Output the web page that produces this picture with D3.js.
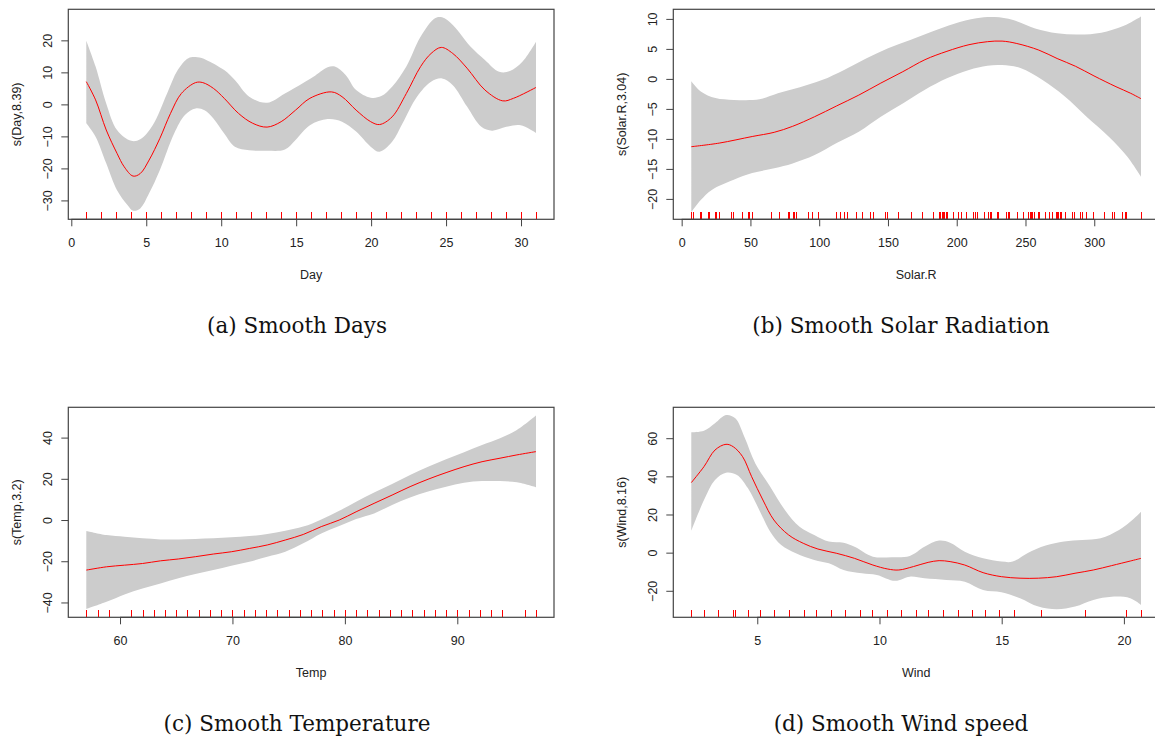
<!DOCTYPE html>
<html><head><meta charset="utf-8">
<script src="https://cdn.jsdelivr.net/npm/d3@7"></script>
<style>body{margin:0;background:#fff} svg{display:block}</style>
</head><body><svg id="c" width="1155" height="740"></svg>
<script>
// ---- Day ----
const dayFit = [[1,7.1],[1.62,1.4],[2.33,-8],[3.05,-15.3],[3.53,-19.5],[4.12,-22.4],[4.6,-21.6],[5.19,-17.4],[5.91,-10.6],[6.62,-2.8],[7.34,3.4],[8.29,6.8],[8.77,6.8],[9.48,5],[10.2,1.9],[11.15,-2.8],[12.1,-5.9],[13.06,-7.1],[14,-5.4],[14.96,-1.8],[15.92,1.9],[17.35,3.9],[18.06,2.4],[19,-1.8],[19.97,-5.4],[20.56,-6.3],[21.4,-3.9],[22.35,3.4],[23.3,11.8],[24,15.9],[24.68,17.8],[25.45,15.9],[26.4,11.3],[27.59,4.5],[28.78,1.1],[29.5,1.9],[31,5.3]];
const dayHi = [[1,19.9],[1.62,11.8],[2.33,0.3],[3.05,-8],[4,-11.4],[4.6,-10.9],[5.43,-6.5],[6.39,3.4],[7.1,10.7],[7.81,14.4],[8.41,14.7],[9,13.9],[10.2,10.7],[10.91,7.6],[11.87,2.4],[13.06,0.5],[14.25,3.4],[15.44,6.6],[16.15,8.6],[17.1,11.6],[17.58,11.8],[18.3,9.2],[19,4.5],[19.97,2.1],[20.68,2.6],[21.4,5.5],[22.35,11.8],[23.3,21.1],[24.26,26.9],[24.73,27.2],[25.45,24.8],[26.64,18],[27.59,13.9],[28.54,10.2],[29.26,10.4],[30.09,13.3],[31,19.6]];
const dayLo = [[1,-5.9],[1.62,-10.1],[2.33,-18.4],[3.05,-26.8],[3.76,-31.5],[4.12,-33.2],[4.6,-32.5],[5.19,-27.8],[5.91,-20.5],[6.86,-9.1],[7.58,-3.3],[8.29,-1.25],[8.89,-1.8],[9.48,-4.4],[10.2,-9.1],[10.91,-13.2],[11.87,-14.3],[13.06,-14.5],[14.25,-14.1],[14.96,-11.1],[15.92,-6.5],[17.1,-4.6],[18.06,-5.4],[19,-8.5],[19.97,-13.2],[20.56,-14.8],[21.4,-11.7],[22.1,-5.9],[23.06,2.4],[24,7.1],[24.73,8.1],[25.45,6],[26.4,-0.7],[27.35,-7],[28.07,-8.2],[29.02,-7],[29.97,-6.5],[31,-8.9]];
const dayRug = [1,2,3,4,5,6,7,8,9,10,11,12,13,14,15,16,17,18,19,20,21,22,23,24,25,26,27,28,29,30,31];
const dayXTicks = [0,5,10,15,20,25,30];
const dayYTicks = [-30,-20,-10,0,10,20];

// ---- Solar.R ----
const solarFit = [[7,-11.3],[27.3,-10.7],[51.3,-9.6],[67.3,-8.9],[80.7,-7.9],[96.7,-6.3],[112.7,-4.5],[128.8,-2.7],[144.8,-0.7],[160.8,1.2],[176.9,3.2],[192.9,4.6],[208.9,5.7],[222.3,6.2],[233,6.3],[243.7,5.9],[259.7,4.8],[273,3.4],[286.4,2.1],[299.8,0.5],[315.8,-1.3],[326.5,-2.4],[334,-3.3]];
const solarHi = [[7,-0.4],[13.9,-2.1],[24.6,-3.2],[37.9,-3.5],[56.6,-3.4],[70,-2.4],[86,-1.4],[102,-0.2],[118.1,1.5],[134.1,3.4],[150.1,5.1],[166.2,6.5],[182.2,7.9],[198.2,9.2],[214.3,10.1],[227.6,10.3],[241,9.8],[257,8.4],[273,7.6],[289.1,7.4],[305.1,7.7],[321.1,8.8],[334,10.4]];
const solarLo = [[7,-22.2],[13.9,-20.2],[21.9,-18.5],[37.9,-16.8],[51.3,-15.7],[67.3,-14.9],[80.7,-14.1],[96.7,-12.7],[112.7,-10.7],[128.8,-8.8],[144.8,-6.3],[160.8,-4.1],[176.9,-1.8],[192.9,0.1],[208.9,1.5],[222.3,2.2],[233,2.3],[246.3,1.8],[262.4,-0.2],[278.4,-2.9],[294.4,-6.3],[310.4,-9.6],[323.8,-12.9],[334,-16.3]];
const solarRug = [190,118,149,313,299,99,19,256,290,274,65,334,307,78,322,44,8,320,25,92,13,252,223,279,127,291,323,148,191,284,37,120,137,269,248,236,175,314,276,267,272,264,48,260,274,285,187,220,7,294,81,82,213,275,253,254,83,24,77,255,229,207,192,273,157,71,51,115,244,259,36,212,238,215,203,225,237,188,167,197,183,189,95,230,112,224,27,201,14,139,49,20,193,131];
const solarXTicks = [0,50,100,150,200,250,300];
const solarYTicks = [-20,-15,-10,-5,0,5,10];

// ---- Temp ----
const tempX = [57,58.8,60.4,62,63.6,65.2,66.7,68.3,69.9,71.5,73.1,74.7,76.3,77.9,79.5,81,82.6,84.2,85.8,87.4,89,90.6,92.2,93.8,95.3,97];
const tempFit = [-24.3,-22.7,-21.9,-21.1,-19.8,-18.9,-17.8,-16.5,-15.4,-13.8,-12.1,-9.7,-7,-3.2,0,4,8.1,12.1,16.2,19.8,23,25.9,28.3,30,31.6,33.2];
const tempHi = [-5.3,-7.3,-8.1,-8.9,-9.4,-9.4,-9.2,-8.9,-8.4,-7.8,-6.8,-5.2,-3.2,0.3,4.5,8.9,13.3,17.5,21.9,25.9,29.5,32.9,36.4,39.7,43.7,50.7];
const tempLo = [-43.2,-39.7,-36.1,-33.2,-30.8,-28.3,-26.2,-24.3,-22.2,-20.2,-17.8,-15.4,-11.3,-6.5,-2.9,0.5,3.2,7.3,10.9,13.8,16.2,18.1,18.9,18.9,18.3,15.9];
const tempRug = [57,58,59,61,62,63,64,65,66,67,68,69,70,71,72,73,74,75,76,77,78,79,80,81,82,83,84,85,86,87,88,89,90,91,92,93,94,96,97];
const tempXTicks = [60,70,80,90];
const tempYTicks = [-40,-20,0,20,40];

// ---- Wind ----
const windFit = [[2.3,36.7],[2.82,45.1],[3.27,53.8],[3.72,56.8],[4.02,55.5],[4.4,50.3],[4.77,39.8],[5.23,27.6],[5.68,17.1],[6.28,9.3],[6.88,4.9],[7.48,1.9],[8.23,-0.3],[8.98,-3],[9.73,-6.5],[10.34,-8.6],[10.79,-9.1],[11.39,-7.3],[11.99,-5.1],[12.44,-4.2],[12.89,-4.7],[13.49,-6.5],[14.24,-10.5],[14.99,-12.6],[15.75,-13.4],[16.5,-13.4],[17.25,-12.6],[18,-10.8],[18.75,-9.1],[19.5,-6.8],[20.26,-4.4],[20.7,-3]];
const windHi = [[2.3,63.1],[2.82,63.9],[3.27,67.8],[3.72,72.1],[4.1,70.4],[4.47,60.8],[4.92,46.8],[5.53,34.6],[6.13,22.4],[6.73,13.6],[7.33,9.3],[7.93,5.8],[8.53,5.2],[8.98,3.1],[9.73,-2.1],[10.49,-2.4],[11.24,-1.7],[11.84,3.1],[12.44,6.3],[12.89,5.2],[13.49,0.5],[14.24,-3],[14.99,-4.7],[15.45,-4.7],[16.05,-0.3],[16.8,3.7],[17.55,5.8],[18.3,6.6],[19.05,7.5],[19.8,11.9],[20.26,16.2],[20.7,21.5]];
const windLo = [[2.3,11.4],[2.82,27.6],[3.27,38.1],[3.72,41.9],[4.17,40.7],[4.62,33.7],[5.08,22.4],[5.53,11],[5.98,4],[6.58,-0.3],[7.33,-3.8],[7.93,-5.6],[8.53,-9.1],[9.28,-10.8],[9.89,-11.7],[10.64,-14.8],[11.24,-12.6],[11.84,-13.4],[12.74,-14.3],[13.49,-15.2],[14.24,-19.6],[14.99,-20.8],[15.75,-23.9],[16.5,-28.3],[17.25,-29.7],[18,-28.3],[18.75,-24.8],[19.5,-23.1],[20.26,-23.9],[20.7,-27.4]];
const windRug = [2.3,2.8,3.4,4.0,4.1,4.6,5.1,5.7,6.3,6.9,7.4,8.0,8.6,9.2,9.7,10.3,10.9,11.5,12.0,12.6,13.2,13.8,14.3,14.9,15.5,16.6,18.4,20.1,20.7];
const windXTicks = [5,10,15,20];
const windYTicks = [-20,0,20,40,60];

const captions = ["(a) Smooth Days","(b) Smooth Solar Radiation","(c) Smooth Temperature","(d) Smooth Wind speed"];
const xTitles = ["Day","Solar.R","Temp","Wind"];
const yTitles = ["s(Day,8.39)","s(Solar.R,3.04)","s(Temp,3.2)","s(Wind,8.16)"];

const zip = (xs, ys) => xs.map((x,i)=>[x, ys[i]]);

const panels = [
  {fit:dayFit, hi:dayHi, lo:dayLo, rug:dayRug, xt:dayXTicks, yt:dayYTicks, xd:[-0.2,32.2], yd:[-35.9,29.7], left:68.3, top:9.3, cx:297, cy:326},
  {fit:solarFit, hi:solarHi, lo:solarLo, rug:solarRug, xt:solarXTicks, yt:solarYTicks, xd:[-6.08,347.08], yd:[-23.4,11.6], left:673.3, top:9.3, cx:901, cy:326},
  {fit:zip(tempX,tempFit), hi:zip(tempX,tempHi), lo:zip(tempX,tempLo), rug:tempRug, xt:tempXTicks, yt:tempYTicks, xd:[55.4,98.6], yd:[-47.2,54.7], left:68.3, top:407.3, cx:297, cy:724},
  {fit:windFit, hi:windHi, lo:windLo, rug:windRug, xt:windXTicks, yt:windYTicks, xd:[1.564,21.436], yd:[-33.9,76.2], left:673.3, top:407.3, cx:901, cy:724}
];

const W = 485.7, H = 210;
const svg = d3.select("#c");
const lineCol = "#444", txtCol = "#222";

panels.forEach((p, i) => {
  const x = d3.scaleLinear().domain(p.xd).range([p.left, p.left + W]);
  const y = d3.scaleLinear().domain(p.yd).range([p.top + H, p.top]);
  const g = svg.append("g");
  const ln = d3.line().x(d=>x(d[0])).y(d=>y(d[1])).curve(d3.curveCatmullRom.alpha(0.5));

  // band
  const up = ln(p.hi);
  const dn = ln(p.lo.slice().reverse()).replace(/^M/, "L");
  g.append("path").attr("d", up + dn + "Z").attr("fill", "#cccccc").attr("stroke", "none");

  // fit
  g.append("path").attr("d", ln(p.fit)).attr("fill", "none").attr("stroke", "#ff0000").attr("stroke-width", 1);

  // rug
  const bottom = p.top + H;
  g.selectAll("line.rug").data(p.rug).enter().append("line").attr("class", "rug")
    .attr("x1", d=>Math.round(x(d)) + 0.5).attr("x2", d=>Math.round(x(d)) + 0.5)
    .attr("y1", bottom - 7).attr("y2", bottom)
    .attr("stroke", "#ff0000").attr("stroke-width", 1).attr("shape-rendering", "crispEdges");

  // box
  g.append("rect").attr("x", p.left).attr("y", p.top).attr("width", W).attr("height", H)
    .attr("fill", "none").attr("stroke", lineCol).attr("stroke-width", 1.2);

  // x axis
  const xa = g.append("g").attr("transform", `translate(0,${bottom})`)
    .call(d3.axisBottom(x).tickValues(p.xt).tickSize(7).tickSizeOuter(0).tickFormat(d3.format("d")));
  xa.select(".domain").remove();
  xa.append("line").attr("x1", x(p.xt[0])).attr("x2", x(p.xt[p.xt.length-1])).attr("y1",0).attr("y2",0)
    .attr("stroke", lineCol).attr("stroke-width", 1.2);
  xa.selectAll(".tick line").attr("stroke", lineCol);
  xa.selectAll(".tick text").attr("y", 28).attr("dy", 0)
    .attr("fill", txtCol).style("font-family", "Liberation Sans, Arial, sans-serif").style("font-size", "12.5px");

  // y axis
  const ya = g.append("g").attr("transform", `translate(${p.left},0)`)
    .call(d3.axisLeft(y).tickValues(p.yt).tickSize(7).tickSizeOuter(0).tickFormat(d3.format("d")));
  ya.select(".domain").remove();
  ya.selectAll(".tick line").attr("stroke", lineCol);
  ya.selectAll(".tick text").attr("transform", "rotate(-90)").attr("x", 0).attr("y", -16).attr("dy", 0)
    .attr("text-anchor", "middle")
    .attr("fill", txtCol).style("font-family", "Liberation Sans, Arial, sans-serif").style("font-size", "12.5px");

  // axis titles
  g.append("text").attr("x", p.left + W/2).attr("y", bottom + 59.5).attr("text-anchor", "middle")
    .attr("fill", txtCol).style("font-family", "Liberation Sans, Arial, sans-serif").style("font-size", "12.5px")
    .text(xTitles[i]);
  g.append("text").attr("transform", `translate(${p.left - 47},${p.top + H/2}) rotate(-90)`)
    .attr("text-anchor", "middle")
    .attr("fill", txtCol).style("font-family", "Liberation Sans, Arial, sans-serif").style("font-size", "12.5px")
    .text(yTitles[i]);

  // caption
  svg.append("text").attr("x", p.cx).attr("y", p.cy + 7).attr("text-anchor", "middle")
    .attr("fill", "#111").style("font-family", "DejaVu Serif, serif").style("font-size", "21.5px")
    .text(captions[i]);
});
</script>
</body></html>
